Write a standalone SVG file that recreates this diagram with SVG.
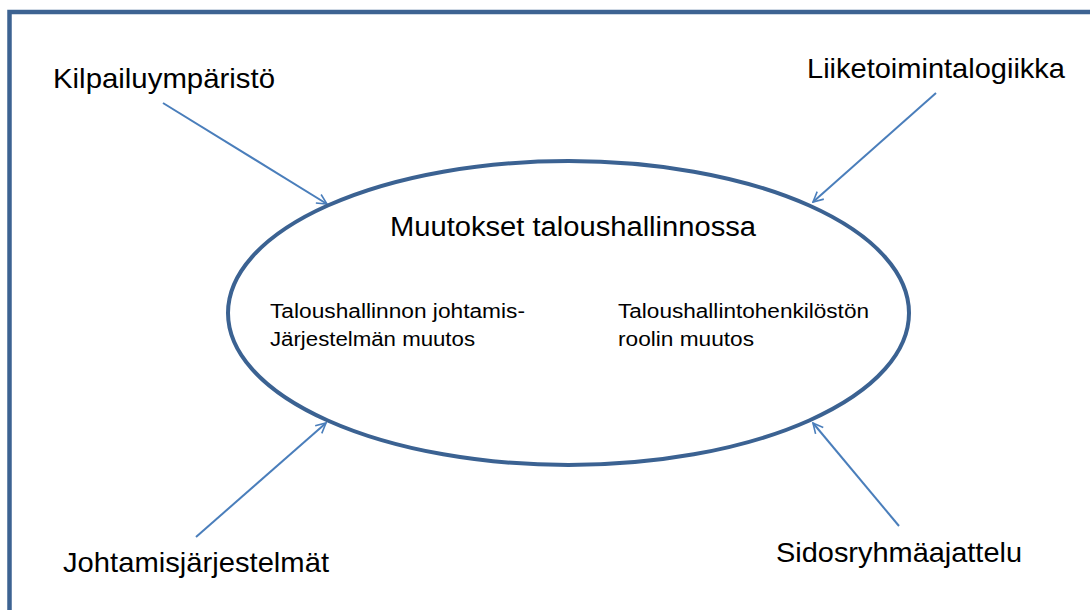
<svg xmlns="http://www.w3.org/2000/svg" width="1090" height="610" viewBox="0 0 1090 610">
  <style>
    .frame { fill: none; stroke: #3D6392; stroke-width: 4.5; }
    .oval { fill: #FFFFFF; stroke: #3B6292; stroke-width: 4; }
    .conn { fill: none; stroke: #4A7EBB; stroke-width: 2; marker-end: url(#open); }
    .lbl { font-family: "Liberation Sans", Arial, sans-serif; fill: #000000; }
    .big { font-size: 28px; }
    .mid { font-size: 27px; }
    .small { font-size: 19.5px; }
  </style>
  <defs>
    <marker id="open" viewBox="0 0 12 12" refX="11" refY="6" markerWidth="12" markerHeight="12" markerUnits="userSpaceOnUse" orient="auto">
      <path d="M1,1 L11,6 L1,11" fill="none" stroke="#4A7EBB" stroke-width="1.6"/>
    </marker>
  </defs>
  <rect width="1090" height="610" fill="#FFFFFF"/>
  <rect class="frame" x="9.5" y="12" width="1100" height="640"/>

  <g id="connectors">
    <line class="conn" x1="163" y1="103" x2="327" y2="204"/>
    <line class="conn" x1="936" y1="93" x2="813" y2="202"/>
    <line class="conn" x1="196" y1="537" x2="326" y2="423"/>
    <line class="conn" x1="899" y1="526" x2="813" y2="423"/>
  </g>

  <g id="center">
    <ellipse class="oval" cx="568.5" cy="313" rx="340.5" ry="152"/>
    <text class="lbl mid" x="390" y="236" textLength="366" lengthAdjust="spacingAndGlyphs">Muutokset taloushallinnossa</text>
    <text class="lbl small" x="270" y="318" textLength="255" lengthAdjust="spacingAndGlyphs">Taloushallinnon johtamis-</text>
    <text class="lbl small" x="270" y="346" textLength="205" lengthAdjust="spacingAndGlyphs">Järjestelmän muutos</text>
    <text class="lbl small" x="618" y="318" textLength="251" lengthAdjust="spacingAndGlyphs">Taloushallintohenkilöstön</text>
    <text class="lbl small" x="618" y="346" textLength="136" lengthAdjust="spacingAndGlyphs">roolin muutos</text>
  </g>

  <g id="kilpailuymparisto">
    <text class="lbl big" x="53" y="88" textLength="222" lengthAdjust="spacingAndGlyphs">Kilpailuympäristö</text>
  </g>
  <g id="liiketoimintalogiikka">
    <text class="lbl big" x="807" y="78" textLength="258" lengthAdjust="spacingAndGlyphs">Liiketoimintalogiikka</text>
  </g>
  <g id="johtamisjarjestelmat">
    <text class="lbl big" x="63" y="572" textLength="266" lengthAdjust="spacingAndGlyphs">Johtamisjärjestelmät</text>
  </g>
  <g id="sidosryhmaajattelu">
    <text class="lbl big" x="776" y="562" textLength="246" lengthAdjust="spacingAndGlyphs">Sidosryhmäajattelu</text>
  </g>
</svg>
